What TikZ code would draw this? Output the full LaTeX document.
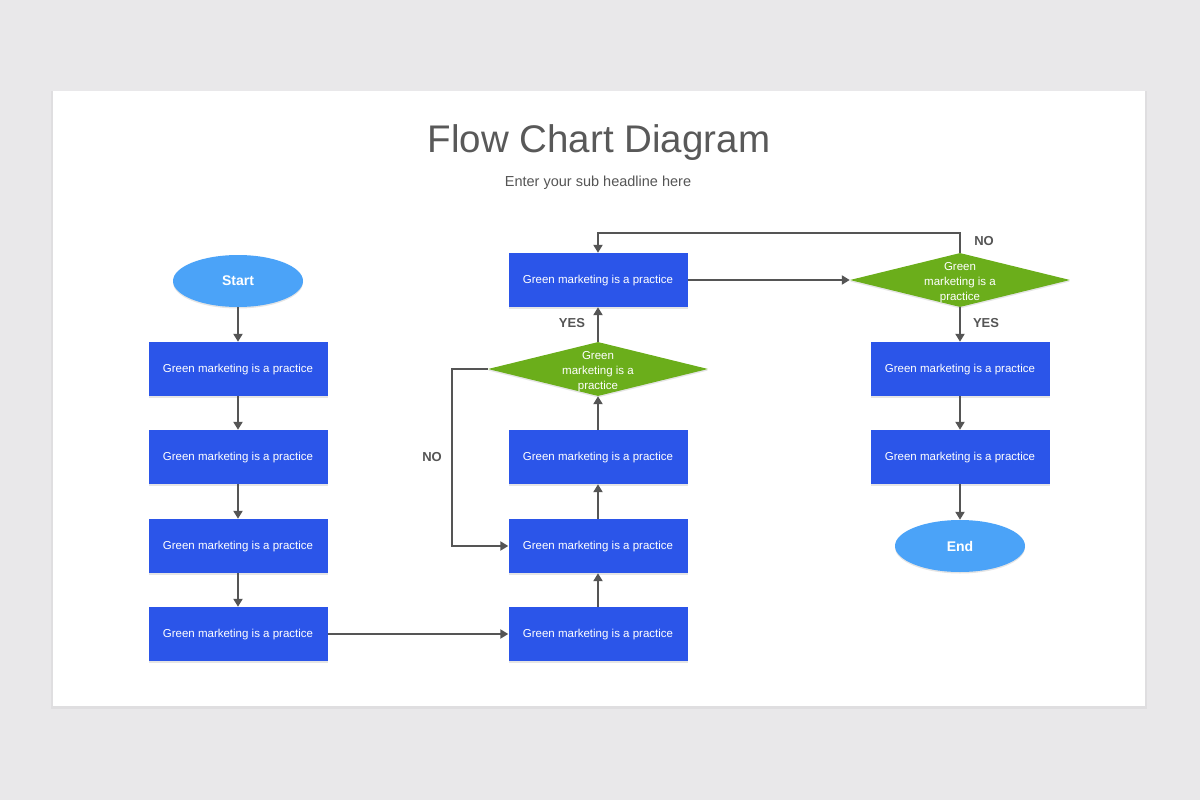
\documentclass[tikz,border=0pt]{standalone}
\usepackage{fontspec}
\setmainfont{Liberation Sans}
\usetikzlibrary{shapes.geometric,arrows.meta,shadows}
\definecolor{bg}{HTML}{E9E8EA}
\definecolor{boxblue}{HTML}{2B55E9}
\definecolor{ellblue}{HTML}{4BA3F8}
\definecolor{dgreen}{HTML}{6BAE1B}
\definecolor{linegray}{HTML}{555555}
\definecolor{titlegray}{HTML}{595959}
\begin{document}
\begin{tikzpicture}[x=1pt,y=-1pt,
  softshadow/.style={drop shadow={shadow xshift=0pt,shadow yshift=-1.5pt,opacity=0.1,fill=black}},
  box/.style={rectangle, fill=boxblue, text=white, minimum width=179pt, minimum height=54pt, inner sep=0pt, text height=0.85em, text depth=0.2em, font=\fontsize{11.5}{14}\selectfont, softshadow},
  term/.style={ellipse, fill=ellblue, minimum width=130pt, minimum height=52pt, inner sep=0pt, text=white, font=\fontsize{14}{16}\selectfont\bfseries, softshadow},
  dec/.style={diamond, fill=dgreen, minimum width=220pt, minimum height=54pt, inner sep=0pt, softshadow},
  dectext/.style={align=center, text=white, yshift=-2.5pt, font=\fontsize{11.5}{15}\selectfont},
  conn/.style={draw=linegray, line width=2pt, -{Triangle[length=8pt,width=9pt]}},
  lbl/.style={text=linegray, font=\fontsize{13}{15}\selectfont\bfseries}]
\useasboundingbox (0,0) rectangle (1200,800);
\fill[bg] (0,0) rectangle (1200,800);
\fill[black,opacity=0.04] (51,91) rectangle (1147,709);
\fill[white] (53,91) rectangle (1145,706);

\node[text=titlegray, font=\fontsize{38.5}{44}\selectfont] (title) at (599,143) {Flow Chart Diagram};
\node[text=linegray, font=\fontsize{14.5}{17}\selectfont] (sub) at (598,183) {Enter your sub headline here};

% left column
\node[term] (start) at (238,281) {Start};
\node[box] (L1) at (238,369) {Green marketing is a practice};
\node[box] (L2) at (238,457) {Green marketing is a practice};
\node[box] (L3) at (238,546) {Green marketing is a practice};
\node[box] (L4) at (238,634) {Green marketing is a practice};

% middle column
\node[box] (M1) at (598,280) {Green marketing is a practice};
\node[dec, label={[dectext]center:Green\\marketing is a\\practice}] (D1) at (598,369) {};
\node[box] (M2) at (598,457) {Green marketing is a practice};
\node[box] (M3) at (598,546) {Green marketing is a practice};
\node[box] (M4) at (598,634) {Green marketing is a practice};

% right column
\node[dec, label={[dectext]center:Green\\marketing is a\\practice}] (D2) at (960,280) {};
\node[box] (R1) at (960,369) {Green marketing is a practice};
\node[box] (R2) at (960,457) {Green marketing is a practice};
\node[term] (end) at (960,546) {End};

% connectors
\draw[conn] (start) -- (L1);
\draw[conn] (L1) -- (L2);
\draw[conn] (L2) -- (L3);
\draw[conn] (L3) -- (L4);
\draw[conn] (L4) -- (M4);
\draw[conn] (M4) -- (M3);
\draw[conn] (M3) -- (M2);
\draw[conn] (M2) -- (D1);
\draw[conn] (D1) -- (M1);
\draw[conn] (D1.west) -- ++(-36,0) |- (M3.west);
\draw[conn] (M1) -- (D2);
\draw[conn] (D2.north) -- ++(0,-20) -| (M1.north);
\draw[conn] (D2) -- (R1);
\draw[conn] (R1) -- (R2);
\draw[conn] (R2) -- (end);

% labels
\node[lbl] (yes1) at (572,323) {YES};
\node[lbl] (no1) at (432,457) {NO};
\node[lbl] (no2) at (984,241) {NO};
\node[lbl] (yes2) at (986,323) {YES};
\end{tikzpicture}
\end{document}
